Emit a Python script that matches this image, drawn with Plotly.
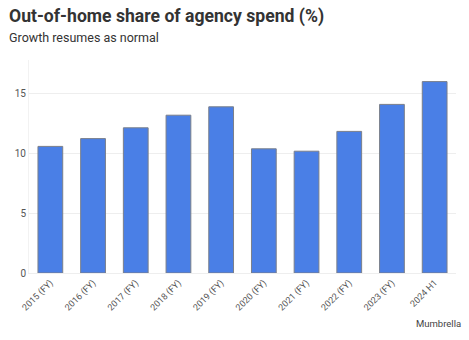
import plotly.graph_objects as go

categories = ["2015 (FY)", "2016 (FY)", "2017 (FY)", "2018 (FY)", "2019 (FY)",
              "2020 (FY)", "2021 (FY)", "2022 (FY)", "2023 (FY)", "2024 H1"]
values = [10.55, 11.2, 12.1, 13.15, 13.85, 10.35, 10.15, 11.8, 14.05, 15.95]
y_ticks = [0, 5, 10, 15]

FONT = "Roboto, sans-serif"

fig = go.Figure()
fig.add_trace(go.Bar(
    x=categories, y=values,
    marker=dict(color="#4a7fe6", line=dict(color="#7a7f8a", width=1)),
    width=0.58,
))

fig.update_layout(
    width=469, height=340,
    margin=dict(l=29, r=13, t=60, b=67),
    paper_bgcolor="white", plot_bgcolor="white",
    font=dict(family=FONT, color="#555", size=10),
    showlegend=False,
    xaxis=dict(tickangle=-45, showgrid=False, showline=True, linecolor="#eeeeee",
               tickfont=dict(size=9, color="#555"), ticks=""),
    yaxis=dict(range=[0, 17.75], tickvals=y_ticks, showgrid=True, gridcolor="#eeeeee",
               zeroline=False, showline=True, linecolor="#f2f2f2",
               tickfont=dict(size=10, color="#555"), ticks=""),
)
fig.add_annotation(text="<b>Out-of-home share of agency spend (%)</b>",
                   xref="paper", yref="paper", x=-22/427, y=1 + (60-17)/213,
                   xanchor="left", yanchor="middle", showarrow=False,
                   font=dict(size=17.6, color="#333", family=FONT))
fig.add_annotation(text="Growth resumes as normal",
                   xref="paper", yref="paper", x=-22/427, y=1 + (60-37)/213,
                   xanchor="left", yanchor="middle", showarrow=False,
                   font=dict(size=12.5, color="#333", family=FONT))
fig.add_annotation(text="Mumbrella",
                   xref="paper", yref="paper", x=1 + 7/427, y=-(323-273)/213,
                   xanchor="right", yanchor="middle", showarrow=False,
                   font=dict(size=9.5, color="#444", family=FONT))

fig.write_html("out.html")
